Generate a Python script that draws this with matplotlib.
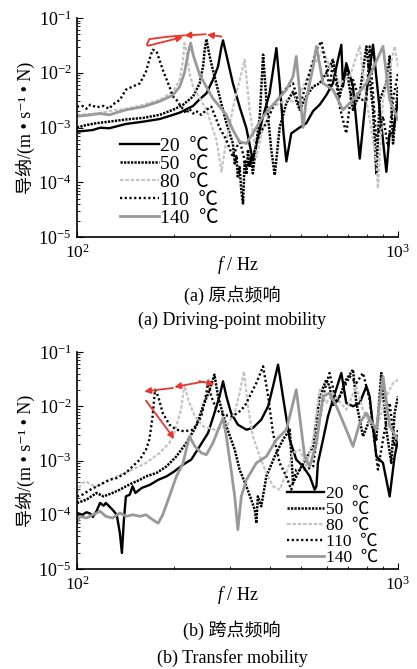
import matplotlib
matplotlib.use("Agg")
import matplotlib.pyplot as plt
from matplotlib.ticker import NullFormatter

plt.rcParams['font.family'] = ['Liberation Serif', 'Noto Sans CJK SC', 'DejaVu Sans']
plt.rcParams['mathtext.fontset'] = 'custom'
plt.rcParams['mathtext.rm'] = 'Liberation Serif'
plt.rcParams['mathtext.it'] = 'Liberation Serif:italic'

labels = ["20  ℃", "50  ℃", "80  ℃", "110  ℃", "140  ℃"]

# ---------------- (a) driving-point mobility ----------------
a20_f = [100, 112, 118, 126, 142, 161, 181, 199, 209, 230, 241, 253, 265, 275, 282, 285, 292, 306, 321, 337,
         353, 362, 380, 398, 418, 428, 440, 449, 465, 494, 518, 544, 570, 598, 627, 643, 666, 674, 690, 724,
         760, 797, 836, 877, 920, 942, 965, 1000]
a20_y = [8.4e-4, 9.0e-4, 9.9e-4, 9.7e-4, 1.16e-3, 1.28e-3, 1.43e-3, 1.7e-3, 1.87e-3, 2.48e-3, 3.28e-3, 4.2e-3,
         7.4e-3, 0.013, 0.0303, 0.039, 0.0213, 6.4e-3, 2.4e-3, 9.7e-4,
         2.5e-4, 5.1e-4, 1.6e-3, 4.2e-3, 0.0282, 6.4e-3, 7.8e-4, 2.4e-4, 7.8e-4, 1.0e-3, 1.2e-3, 2.0e-3, 2.6e-3,
         3.9e-3, 6.4e-3, 0.013, 0.0324, 5.6e-3, 0.015, 5.6e-3,
         2.7e-4, 4.2e-3, 0.0324, 2.1e-3, 1.55e-4, 7.8e-4, 7.8e-4, 3.2e-3]

a50_f = [100, 107, 115, 126, 142, 161, 181, 199, 214, 230, 241, 247, 250, 253, 259, 265, 278, 292, 306, 310,
         314, 317, 321, 325, 329, 333, 337, 341, 345, 349, 353, 362, 371, 380, 389, 403, 413, 428, 449, 471,
         494, 518, 544, 570, 598, 627, 658, 690, 724, 760, 797, 836, 856, 877, 920, 942, 965, 1000]
a50_y = [1.0e-3, 1.11e-3, 1.2e-3, 1.28e-3, 1.4e-3, 1.5e-3, 1.7e-3, 2.1e-3, 2.6e-3, 3.7e-3, 6.4e-3, 0.013,
         0.0263, 0.0412, 0.0199, 0.0113, 3.7e-3, 1.2e-3, 5.1e-4, 2.2e-4,
         3.0e-4, 1.2e-4, 1.9e-4, 7.0e-5, 4.1e-5, 2.5e-4, 1.4e-4, 3.9e-4, 1.9e-4, 2.9e-4, 1.45e-4, 5.1e-4, 1.6e-3,
         0.0213, 3.2e-3, 3.9e-4, 1.35e-4, 1.0e-3, 2.8e-3, 4.5e-3,
         2.1e-3, 3.7e-3, 5.6e-3, 6.4e-3, 9.8e-3, 0.0173, 3.7e-3, 0.013, 2.1e-3, 4.2e-3, 0.0303, 2.1e-3, 1.45e-4,
         3.2e-3, 6.4e-3, 0.0199, 5.1e-4, 5.6e-3]

a80_f = [100, 115, 126, 142, 161, 181, 199, 209, 214, 216, 219, 224, 230, 253, 272, 282, 292, 310, 333, 345,
         362, 380, 408, 449, 471, 494, 544, 584, 612, 658, 707, 760, 797, 856, 866, 898, 976, 1000]
a80_y = [1.7e-3, 1.8e-3, 2.0e-3, 2.2e-3, 2.6e-3, 3.2e-3, 4.5e-3, 7.4e-3, 0.0173, 0.0348, 0.0263, 9.8e-3,
         5.6e-3, 2.1e-3, 5.9e-4, 1.55e-4, 5.9e-4, 3.2e-3, 0.0173, 2.1e-3,
         2.9e-4, 1.0e-3, 2.4e-3, 3.2e-3, 3.0e-3, 4.2e-3, 0.013, 0.0263, 0.013, 6.4e-3, 8.5e-3, 0.0303, 3.2e-3,
         2.5e-4, 7.7e-5, 3.2e-3, 0.0303, 0.013]

a110_f = [100, 104, 107, 110, 115, 121, 126, 129, 136, 142, 149, 157, 164, 168, 172, 177, 185, 194, 199, 204,
          209, 219, 224, 230, 235, 244, 253, 262, 278, 292, 306, 321, 337, 353, 371, 389, 408, 428, 449, 471,
          494, 518, 557, 577, 598, 612, 627, 658, 690, 724, 760, 797, 816, 856, 898, 931, 965, 1000]
a110_y = [2.4e-3, 2.48e-3, 2.2e-3, 2.6e-3, 2.34e-3, 2.48e-3, 2.2e-3, 2.6e-3, 3.2e-3, 4.9e-3, 5.6e-3, 6.4e-3,
          0.0105, 0.0173, 0.0263, 0.0245, 0.0113, 5.6e-3, 3.7e-3, 3.2e-3,
          2.6e-3, 1.8e-3, 2.2e-3, 1.8e-3, 2.0e-3, 1.7e-3, 2.1e-3, 2.4e-3, 1.0e-3, 5.9e-4, 2.9e-4, 5.9e-4, 1.9e-4,
          2.9e-4, 7.8e-4, 1.2e-3, 2.4e-3, 3.7e-3, 5.2e-3, 6.4e-3,
          2.4e-3, 6.4e-3, 0.0263, 0.0374, 0.013, 4.9e-3, 0.0161, 2.4e-3, 7.8e-4, 7.4e-3, 3.2e-3, 3.2e-3, 0.0303,
          5.9e-4, 1.6e-3, 4.5e-4, 3.2e-3, 9.8e-3]

a140_f = [100, 110, 118, 126, 142, 161, 181, 199, 209, 216, 222, 226, 230, 241, 265, 292, 306, 321, 337, 353,
          380, 408, 449, 471, 482, 506, 518, 544, 557, 584, 627, 674, 724, 797, 898, 942, 1000]
a140_y = [1.6e-3, 1.7e-3, 1.8e-3, 1.7e-3, 2.1e-3, 2.4e-3, 3.0e-3, 3.9e-3, 5.6e-3, 9.8e-3, 0.0228, 0.0348,
          0.0213, 9.2e-3, 3.4e-3, 1.7e-3, 9.0e-4, 5.5e-4, 5.1e-4, 7.8e-4,
          1.6e-3, 2.6e-3, 4.9e-3, 8.5e-3, 0.0199, 1.0e-3, 3.2e-3, 0.013, 0.0303, 6.4e-3, 4.9e-3, 2.1e-3, 3.2e-3,
          6.4e-3, 0.0303, 3.2e-3, 1.4e-3]

# ---------------- (b) transfer mobility ----------------
b20_f = [100, 104, 107, 110, 112, 115, 118, 121, 123, 126, 129, 133, 136, 138, 140, 142, 146, 149, 152, 159,
         169, 179, 190, 201, 214, 227, 241, 256, 268, 278, 285, 292, 302, 317, 337, 353, 375, 394, 408, 423,
         438, 460, 482, 506, 531, 550, 557, 563, 584, 605, 627, 666, 690, 724, 760, 797, 816, 856, 898, 942,
         976, 1000]
b20_y = [1.08e-4, 1.0e-4, 1.11e-4, 1.05e-4, 9.1e-5, 1.16e-4, 1.65e-4, 1.47e-4, 1.65e-4, 1.43e-4, 1.24e-4, 1.0e-4,
         4.6e-5, 1.97e-5, 8.1e-5, 2.18e-4, 2.35e-4, 3.34e-4, 2.52e-4, 3.11e-4,
         3.58e-4, 4.4e-4, 5.1e-4, 6.3e-4, 8.4e-4, 1.04e-3, 1.82e-3, 3.21e-3, 7.5e-3, 0.0152, 0.0288, 0.0152,
         7.5e-3, 4.58e-3, 3.7e-3, 3.97e-3, 5.66e-3, 0.01, 0.0233, 0.0585,
         0.0152, 2.42e-3, 1.04e-3, 7.8e-4, 5.1e-4, 2.9e-4, 3.34e-4, 9.0e-4, 2.42e-3, 6.5e-3, 0.0132, 0.041,
         0.0115, 0.01, 0.0115, 0.0233, 0.0152, 1.19e-3, 9.0e-4, 2.18e-4,
         1.19e-3, 2.42e-3]

b50_f = [100, 107, 115, 121, 129, 136, 142, 149, 157, 164, 177, 190, 204, 219, 235, 247, 259, 268, 275, 292,
         310, 321, 337, 349, 358, 362, 366, 375, 389, 413, 438, 460, 471, 494, 544, 570, 598, 612, 627, 658,
         690, 724, 742, 778, 816, 856, 887, 920, 953, 976, 1000]
b50_y = [1.65e-4, 1.9e-4, 2.52e-4, 2.18e-4, 2.52e-4, 2.9e-4, 3.34e-4, 3.85e-4, 4.4e-4, 5.1e-4, 5.9e-4, 7.8e-4,
         1.19e-3, 2.1e-3, 4.26e-3, 0.01, 0.0202, 0.0382, 0.0152, 4.26e-3,
         1.58e-3, 6.8e-4, 3.34e-4, 1.9e-4, 1.24e-4, 7.0e-5, 2.18e-4, 1.43e-4, 5.1e-4, 1.19e-3, 2.42e-3, 3.7e-3,
         3.85e-4, 6.8e-4, 1.82e-3, 0.0152, 0.0309, 0.0233, 0.01, 0.0152,
         0.0309, 0.0472, 0.0115, 2.79e-3, 5.66e-3, 2.42e-3, 0.041, 3.7e-3, 9.0e-4, 7.5e-3, 0.0152]

b80_f = [100, 102, 104, 107, 110, 115, 121, 133, 149, 164, 181, 194, 201, 211, 216, 222, 233, 247, 268, 292,
         310, 321, 331, 341, 353, 371, 389, 408, 428, 449, 471, 494, 518, 544, 570, 598, 627, 690, 742, 778,
         816, 856, 920, 965, 1000]
b80_y = [2.52e-4, 3.34e-4, 3.85e-4, 4.13e-4, 3.58e-4, 3.34e-4, 3.85e-4, 5.1e-4, 6.8e-4, 9.0e-4, 1.38e-3, 2.1e-3,
         3.21e-3, 8.65e-3, 0.025, 0.0132, 6.5e-3, 4.26e-3, 3.7e-3, 4.26e-3,
         7.5e-3, 0.0175, 0.044, 0.01, 2.79e-3, 1.19e-3, 5.9e-4, 3.34e-4, 2.9e-4, 5.9e-4, 1.38e-3, 1.58e-3, 7.8e-4,
         2.42e-3, 0.0202, 0.0115, 0.0175, 8.65e-3, 0.0233, 8.65e-3,
         4.91e-3, 3.7e-3, 0.0152, 0.0268, 0.0309]

b110_f = [100, 104, 110, 118, 126, 133, 142, 149, 157, 164, 168, 172, 175, 179, 185, 194, 204, 216, 230, 244,
          253, 256, 262, 272, 285, 302, 317, 333, 362, 380, 394, 408, 428, 449, 465, 482, 518, 544, 563, 591,
          612, 643, 674, 707, 742, 778, 816, 836, 866, 898, 942, 976, 1000]
b110_y = [2.18e-4, 2.35e-4, 2.9e-4, 3.58e-4, 4.4e-4, 4.75e-4, 5.9e-4, 7.8e-4, 1.04e-3, 1.58e-3, 2.42e-3, 6.5e-3,
          0.0202, 0.0152, 7.5e-3, 4.58e-3, 3.7e-3, 3.45e-3, 3.7e-3, 6.5e-3,
          0.0175, 0.0288, 0.0152, 8.65e-3, 7.0e-3, 6.5e-3, 7.5e-3, 0.01, 0.0268, 0.0545, 0.0152, 3.21e-3, 9.0e-4,
          5.1e-4, 2.9e-4, 6.8e-4, 6.8e-4, 7.8e-4, 3.7e-3, 0.0202,
          0.041, 0.0115, 0.0202, 0.0356, 0.0268, 0.041, 0.0132, 3.7e-3, 6.8e-4, 2.42e-3, 0.0115, 1.82e-3, 3.7e-3]

b140_f = [100, 102, 107, 112, 118, 123, 129, 136, 142, 149, 157, 164, 172, 179, 185, 194, 204, 214, 224, 233,
          244, 253, 265, 278, 285, 292, 302, 310, 317, 325, 337, 362, 389, 418, 449, 471, 482, 494, 512, 531,
          557, 584, 612, 643, 690, 724, 760, 797, 856, 898, 942, 1000]
b140_y = [7.0e-5, 9.35e-5, 8.7e-5, 1.0e-4, 1.16e-4, 9.35e-5, 8.7e-5, 1.08e-4, 9.35e-5, 1.0e-4, 9.35e-5, 1.0e-4,
          8.1e-5, 7.0e-5, 1.0e-4, 2.18e-4, 5.1e-4, 9.0e-4, 2.79e-3, 1.82e-3,
          1.38e-3, 1.28e-3, 2.1e-3, 4.26e-3, 6.07e-3, 2.79e-3, 6.8e-4, 2.18e-4, 5.3e-5, 2.18e-4, 4.4e-4, 9.0e-4,
          1.19e-3, 2.42e-3, 3.7e-3, 0.0115, 0.0202, 6.5e-3, 1.19e-3, 7.8e-4,
          2.1e-3, 0.0152, 0.0175, 0.01, 3.7e-3, 1.82e-3, 4.91e-3, 7.5e-3, 3.7e-3, 0.0356, 4.26e-3, 2.42e-3]

# red annotation arrows (f, mobility)
a_arrows = [((282, 0.046), (254, 0.0495)), ((252, 0.0505), (216, 0.048))]
a_loop = ([216, 195, 168, 165], [0.048, 0.046, 0.0412, 0.0325])
a_loop_arrow = ((166, 0.031), (214, 0.045))
b_arrows = [((199, 0.0217), (162, 0.0188)), ((248, 0.0285), (201, 0.0226)),
            ((240, 0.0290), (268, 0.0255)), ((164, 0.0127), (201, 0.0025))]

styles = [dict(color='black', lw=1.7, ls='-'),
          dict(color='black', lw=1.8, ls=(0, (0.9, 0.5))),
          dict(color='#c4c4c4', lw=1.6, ls=(0, (1.6, 0.8))),
          dict(color='black', lw=1.7, ls=(0, (0.9, 1.1))),
          dict(color='#999999', lw=2.0, ls='-')]

W, H = 417, 669
fig = plt.figure(figsize=(W / 100, H / 100), dpi=100)
red = '#e8372e'


def setup(ax, ax_h, label_px):
    ax.set_xscale('log')
    ax.set_yscale('log')
    ax.set_xlim(100, 1000)
    ax.set_ylim(1e-5, 1e-1)
    for s in ['top', 'right']:
        ax.spines[s].set_visible(False)
    for s in ['left', 'bottom']:
        ax.spines[s].set_linewidth(1.2)
    ax.xaxis.set_minor_formatter(NullFormatter())
    ax.tick_params(which='both', direction='in')
    ax.tick_params(axis='y', which='major', labelsize=13, length=4, pad=4)
    ax.tick_params(axis='x', which='major', labelsize=12.5, length=4, pad=5)
    ax.tick_params(which='minor', length=2)
    ax.set_ylabel("导纳/(m • s⁻¹ • N)", fontsize=13, labelpad=2)
    ax.set_xlabel("$f$ / Hz", fontsize=13)
    ax.xaxis.label.set_va('center')
    ax.xaxis.set_label_coords(0.5, -label_px / ax_h)


def arrow(ax, p0, p1):
    ax.annotate('', xy=p1, xytext=p0,
                arrowprops=dict(arrowstyle='-|>', color=red, lw=1.3,
                                mutation_scale=9, shrinkA=0, shrinkB=0))


ax1 = fig.add_axes([77 / W, 1 - 237 / H, 321 / W, 219 / H])
setup(ax1, 219, 28)
for f, y, st, lab in zip([a20_f, a50_f, a80_f, a110_f, a140_f],
                         [a20_y, a50_y, a80_y, a110_y, a140_y], styles, labels):
    ax1.plot(f, y, label=lab, **st)
for p0, p1 in a_arrows:
    arrow(ax1, p0, p1)
ax1.plot(a_loop[0], a_loop[1], color=red, lw=1.3)
arrow(ax1, *a_loop_arrow)
ax1.legend(loc='upper left', bbox_to_anchor=(0.135, 0.455), frameon=False, fontsize=14,
           handlelength=2.0, handletextpad=0.05, labelspacing=0.02, borderpad=0, borderaxespad=0)

ax2 = fig.add_axes([77 / W, 1 - 569 / H, 321 / W, 217 / H])
setup(ax2, 217, 26)
for f, y, st, lab in zip([b20_f, b50_f, b80_f, b110_f, b140_f],
                         [b20_y, b50_y, b80_y, b110_y, b140_y], styles, labels):
    ax2.plot(f, y, label=lab, **st)
for p0, p1 in b_arrows:
    arrow(ax2, p0, p1)
ax2.legend(loc='upper left', bbox_to_anchor=(0.655, 0.385), frameon=False, fontsize=12.5,
           handlelength=2.1, handletextpad=0.15, labelspacing=0.0, borderpad=0, borderaxespad=0)

fig.text(232 / W, 1 - 295 / H, "(a) 原点频响", ha='center', va='center', fontsize=13)
fig.text(232 / W, 1 - 320 / H, "(a) Driving-point mobility", ha='center', va='center', fontsize=13)
fig.text(232 / W, 1 - 630 / H, "(b) 跨点频响", ha='center', va='center', fontsize=13)
fig.text(232 / W, 1 - 658 / H, "(b) Transfer mobility", ha='center', va='center', fontsize=13)

fig.savefig("out.png", dpi=100)
